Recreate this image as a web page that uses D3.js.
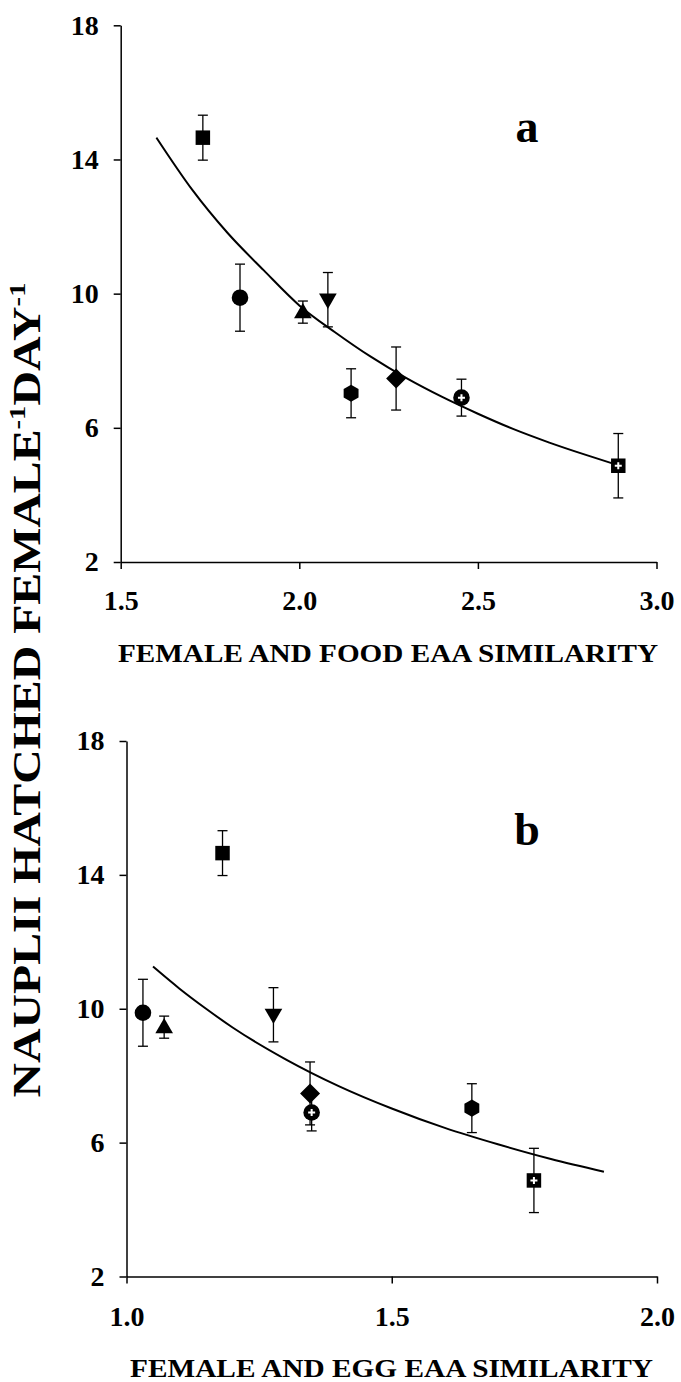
<!DOCTYPE html>
<html>
<head>
<meta charset="utf-8">
<script src="https://cdn.jsdelivr.net/npm/d3@7"></script>
<style>
  body { margin: 0; background: #fff; }
  svg text { font-family: "Liberation Serif", "Times New Roman", serif; font-weight: bold; fill: #000; }
</style>
</head>
<body>
<svg id="chart" width="681" height="1382"></svg>
<script>
// treatments (one marker shape each), same order in every array
const shapes = ["square", "circle", "triangle", "triangleDown", "hexagon", "diamond", "circlePlus", "squarePlus"];
// nauplii hatched per female per day, mean and error bar
const nauplii = [14.65, 9.88, 9.45, 9.82, 7.03, 7.47, 6.9, 4.87];
const naupliiErr = [0.67, 1.0, 0.33, 0.81, 0.73, 0.94, 0.55, 0.96];
// x values for the two panels
const foodSim = [1.730, 1.834, 2.010, 2.080, 2.145, 2.271, 2.454, 2.893];
const eggSim = [1.181, 1.031, 1.071, 1.277, 1.651, 1.346, 1.349, 1.768];

// fitted curves
const fitFoodX = [1.60, 1.70, 1.80, 1.90, 2.00, 2.10, 2.20, 2.30, 2.40, 2.50, 2.60, 2.70, 2.80, 2.90];
const fitFoodY = [14.65, 13.1, 11.8, 10.7, 9.65, 8.85, 8.12, 7.48, 6.92, 6.42, 5.96, 5.56, 5.2, 4.86];
const fitEggX = [1.05, 1.10, 1.15, 1.20, 1.30, 1.40, 1.50, 1.60, 1.70, 1.80, 1.90];
const fitEggY = [11.26, 10.6, 10.0, 9.44, 8.49, 7.69, 7.02, 6.44, 5.95, 5.51, 5.13];

const yTicks = [2, 6, 10, 14, 18];
const foodTicks = [1.5, 2.0, 2.5, 3.0];
const eggTicks = [1.0, 1.5, 2.0];

const svg = d3.select("#chart");

function hexPath(r) {
  const pts = d3.range(6).map(k => {
    const a = Math.PI / 2 + k * Math.PI / 3;
    return [r * Math.cos(a), r * Math.sin(a)];
  });
  return "M" + pts.join("L") + "Z";
}

function drawMarker(g, shape) {
  if (shape == "square" || shape == "squarePlus") {
    g.append("path").attr("d", d3.symbol(d3.symbolSquare, 210)());
  } else if (shape == "circle" || shape == "circlePlus") {
    g.append("path").attr("d", d3.symbol(d3.symbolCircle, 215)());
  } else if (shape == "triangle") {
    g.append("path").attr("d", d3.symbol(d3.symbolTriangle, 135)()).attr("transform", "translate(0,1)");
  } else if (shape == "triangleDown") {
    g.append("path").attr("d", d3.symbol(d3.symbolTriangle, 135)()).attr("transform", "rotate(180) translate(0,1)");
  } else if (shape == "hexagon") {
    g.append("path").attr("d", hexPath(8.6));
  } else if (shape == "diamond") {
    g.append("path").attr("d", d3.symbol(d3.symbolSquare, 200)()).attr("transform", "rotate(45)");
  }
  g.selectAll("path").attr("fill", "#000");
  if (shape == "circlePlus" || shape == "squarePlus") {
    g.append("path")
      .attr("d", "M-3.5,0H3.5M0,-3.5V3.5")
      .attr("stroke", "#fff")
      .attr("stroke-width", 2)
      .attr("fill", "none");
  }
}

function panel(opts) {
  const x = d3.scaleLinear().domain(opts.xDomain).range(opts.xRange);
  const y = d3.scaleLinear().domain([2, 18]).range(opts.yRange);
  const g = svg.append("g");

  const xAxis = g.append("g")
    .attr("transform", "translate(0," + opts.yRange[0] + ")")
    .call(d3.axisBottom(x).tickValues(opts.xTicks).tickFormat(d3.format(".1f"))
      .tickSize(7).tickSizeOuter(0).tickPadding(opts.xPad));
  const yAxis = g.append("g")
    .attr("transform", "translate(" + opts.xRange[0] + ",0)")
    .call(d3.axisLeft(y).tickValues(yTicks).tickFormat(d3.format("d"))
      .tickSize(7).tickSizeOuter(0).tickPadding(15));
  [xAxis, yAxis].forEach(a => {
    a.attr("font-family", null).attr("font-size", null);
    a.select(".domain").attr("stroke", "#000").attr("stroke-width", 1.5);
    a.selectAll(".tick line").attr("stroke", "#000").attr("stroke-width", 1.5);
    a.selectAll(".tick text").attr("font-size", 28).attr("fill", "#000");
  });

  // fitted curve
  g.append("path")
    .datum(d3.zip(opts.fitX, opts.fitY))
    .attr("fill", "none")
    .attr("stroke", "#000")
    .attr("stroke-width", 2)
    .attr("d", d3.line().x(d => x(d[0])).y(d => y(d[1])).curve(d3.curveMonotoneX));

  // error bars
  const bars = g.selectAll(".err").data(shapes).enter().append("g").attr("class", "err")
    .attr("stroke", "#000").attr("stroke-width", 1.3);
  bars.append("line")
    .attr("x1", (d, i) => x(opts.xs[i])).attr("x2", (d, i) => x(opts.xs[i]))
    .attr("y1", (d, i) => y(nauplii[i] + naupliiErr[i]))
    .attr("y2", (d, i) => y(nauplii[i] - naupliiErr[i]));
  [1, -1].forEach(s => {
    bars.append("line")
      .attr("x1", (d, i) => x(opts.xs[i]) - 5).attr("x2", (d, i) => x(opts.xs[i]) + 5)
      .attr("y1", (d, i) => y(nauplii[i] + s * naupliiErr[i]))
      .attr("y2", (d, i) => y(nauplii[i] + s * naupliiErr[i]));
  });

  // markers
  g.selectAll(".mk").data(shapes).enter().append("g").attr("class", "mk")
    .attr("transform", (d, i) => "translate(" + x(opts.xs[i]) + "," + y(nauplii[i]) + ")")
    .each(function (d) { drawMarker(d3.select(this), d); });

  // panel letter
  g.append("text")
    .attr("x", opts.letterPos[0]).attr("y", opts.letterPos[1])
    .attr("text-anchor", "middle").attr("font-size", 46)
    .text(opts.letter);

  // x title
  g.append("text")
    .attr("x", opts.titleX).attr("y", opts.yRange[0] + 100)
    .attr("text-anchor", "middle").attr("font-size", 25)
    .attr("textLength", opts.titleLen).attr("lengthAdjust", "spacingAndGlyphs")
    .text(opts.title);
}

panel({
  xDomain: [1.5, 3.0], xRange: [120.7, 656.5], yRange: [562, 25.3],
  xTicks: foodTicks, xPad: 21, xs: foodSim,
  fitX: fitFoodX, fitY: fitFoodY,
  letter: "a", letterPos: [527, 142],
  title: "FEMALE AND FOOD EAA SIMILARITY", titleX: 388, titleLen: 540
});

panel({
  xDomain: [1.0, 2.0], xRange: [126.5, 657], yRange: [1276.5, 741],
  xTicks: eggTicks, xPad: 23, xs: eggSim,
  fitX: fitEggX, fitY: fitEggY,
  letter: "b", letterPos: [527, 845],
  title: "FEMALE AND EGG EAA SIMILARITY", titleX: 391.5, titleLen: 523
});

// shared y title
const yt = svg.append("text")
  .attr("transform", "translate(40,690) rotate(-90)")
  .attr("text-anchor", "middle")
  .attr("font-size", 40)
  .attr("textLength", 815).attr("lengthAdjust", "spacingAndGlyphs");
yt.append("tspan").text("NAUPLII HATCHED FEMALE");
yt.append("tspan").attr("font-size", 24).attr("dy", -15).text("-1");
yt.append("tspan").attr("dy", 15).text("DAY");
yt.append("tspan").attr("font-size", 24).attr("dy", -15).text("-1");
</script>
</body>
</html>
